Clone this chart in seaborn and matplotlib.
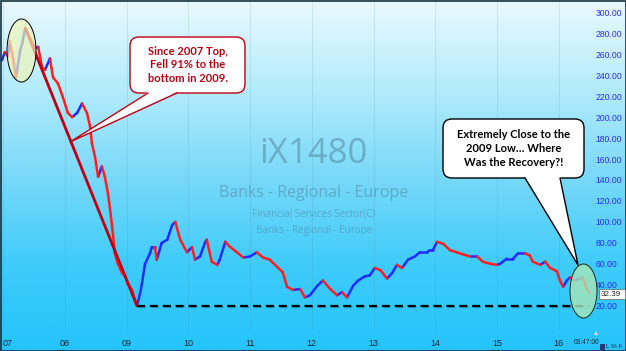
import numpy as np
import pandas as pd
import matplotlib
matplotlib.use("Agg")
import matplotlib.pyplot as plt
import seaborn as sns
from matplotlib.patches import Ellipse, FancyBboxPatch, Polygon, Rectangle
from matplotlib.colors import LinearSegmentedColormap
import matplotlib.patheffects as pe

# ---------------- data ----------------
years = [2006.98, 2007.03, 2007.08, 2007.11, 2007.16, 2007.21, 2007.28, 2007.31, 2007.36, 2007.44,
         2007.52, 2007.57, 2007.63, 2007.68, 2007.76, 2007.81, 2007.89, 2007.97, 2008.05, 2008.12,
         2008.20, 2008.28, 2008.36, 2008.41, 2008.44, 2008.49, 2008.54, 2008.60, 2008.65, 2008.70,
         2008.73, 2008.78, 2008.81, 2008.86, 2008.93, 2008.98, 2009.02, 2009.09, 2009.14, 2009.17,
         2009.22, 2009.25, 2009.30, 2009.38, 2009.41, 2009.46, 2009.49, 2009.57, 2009.66, 2009.74,
         2009.79, 2009.87, 2009.98, 2010.06, 2010.11, 2010.19, 2010.27, 2010.30, 2010.38, 2010.47,
         2010.51, 2010.60, 2010.68, 2010.79, 2010.89, 2011.00, 2011.11, 2011.21, 2011.32, 2011.44,
         2011.53, 2011.60, 2011.70, 2011.81, 2011.89, 2011.97, 2012.09, 2012.18, 2012.30, 2012.41,
         2012.49, 2012.57, 2012.67, 2012.75, 2012.86, 2012.94, 2013.02, 2013.11, 2013.22, 2013.30,
         2013.38, 2013.46, 2013.56, 2013.67, 2013.75, 2013.87, 2013.91, 2013.96, 2014.03, 2014.13,
         2014.24, 2014.35, 2014.45, 2014.56, 2014.68, 2014.77, 2014.89, 2015.00, 2015.05, 2015.16,
         2015.26, 2015.34, 2015.45, 2015.53, 2015.58, 2015.70, 2015.78, 2015.86, 2015.97, 2016.02,
         2016.07, 2016.13, 2016.18, 2016.26, 2016.34, 2016.39, 2016.44, 2016.49]
prices = [254, 262, 258, 272, 257, 238, 264, 270, 285, 275,
          266, 267, 248, 245, 256, 238, 232, 219, 204, 200,
          204, 213, 204, 191, 175, 162, 143, 153, 143, 127,
          114, 89, 70, 60, 51, 48, 41, 35, 25, 20,
          32, 41, 60, 70, 76, 76, 64, 80, 83, 97,
          100, 83, 71, 76, 64, 67, 80, 83, 62, 59,
          64, 81, 76, 71, 66, 67, 71, 66, 64, 57,
          52, 38, 35, 36, 28, 30, 39, 44, 36, 30,
          33, 28, 39, 44, 48, 49, 56, 54, 46, 51,
          59, 56, 64, 67, 71, 71, 73, 73, 81, 79,
          73, 71, 69, 67, 67, 62, 60, 59, 60, 65,
          65, 70, 70, 68, 62, 59, 62, 56, 53, 44,
          38, 44, 47, 44, 46, 47, 38, 32.39]
year_ticks = list(range(2007, 2017))
year_labels = ["07", "08", "09", "10", "11", "12", "13", "14", "15", "16"]
price_ticks = list(range(20, 301, 20))
last_price_label = "32.39"

W, H = 626, 351
sns.set_theme(style="white")
plt.rcParams["font.family"] = ["Liberation Sans", "DejaVu Sans"]

fig = plt.figure(figsize=(W / 100, H / 100), dpi=100)

# ---------------- background gradient ----------------
bg = fig.add_axes([0, 0, 1, 1], zorder=0)
cmap = LinearSegmentedColormap.from_list(
    "bgc", ["#eaf9fe", "#b4ecfc", "#7ad9f9", "#40ccfa", "#24c4fa"])
grad = np.linspace(0, 1, 256).reshape(-1, 1)
bg.imshow(grad, cmap=cmap, aspect="auto", extent=(0, W, H, 0))
bg.set_xlim(0, W)
bg.set_ylim(H, 0)
bg.axis("off")

wm = "#4f7f95"
bg.text(313, 154, "iX1480", fontsize=25, color=wm, alpha=0.5, ha="center", va="center",
        family="Open Sans")
bg.text(314, 193, "Banks - Regional - Europe", fontsize=11.5, color=wm, alpha=0.5,
        ha="center", va="center", family="Open Sans")
bg.text(314, 214, "Financial Services Sector(C)", fontsize=7, color=wm, alpha=0.5,
        ha="center", va="center", family="Open Sans")
bg.text(314, 230, "Banks - Regional - Europe", fontsize=7, color=wm, alpha=0.5,
        ha="center", va="center", family="Open Sans")

# ---------------- main chart ----------------
ax = fig.add_axes([0, (H - 330) / H, 591 / W, 330 / H], zorder=1)
ax.set_facecolor("none")

t = np.array(years)
p = np.array(prices)
rows = []
for i in range(len(t) - 1):
    d = "up" if p[i + 1] >= p[i] else "down"
    rows.append((i, t[i], p[i], d))
    rows.append((i, t[i + 1], p[i + 1], d))
seg = pd.DataFrame(rows, columns=["seg", "t", "v", "dir"])
sns.lineplot(data=seg, x="t", y="v", hue="dir", units="seg", estimator=None, sort=False,
             palette={"up": "#1f2bff", "down": "#ff1e1e"}, linewidth=1.8, legend=False,
             ax=ax, zorder=2)

# red trend line from peak to low, dashed line at the low
i_pk = int(np.argmax(p))
i_lo = int(np.argmin(p))
ax.plot([t[i_pk], t[i_lo]], [p[i_pk], p[i_lo]], color="#c00010", lw=2.0,
        solid_capstyle="round", zorder=4)
ax.plot([t[i_lo], t[-1]], [p[i_lo], p[i_lo]], color="black", lw=1.6, dashes=(3.6, 2.2),
        zorder=4, path_effects=[pe.SimpleLineShadow(offset=(0.8, -1.2), alpha=0.25), pe.Normal()])

ax.set_xlim(2007 - 3 / 61.75, 2007 + 588 / 61.75)
ax.set_ylim(300 - (330 - 12.3) / 1.048, 300 + 12.3 / 1.048)
ax.set_xticks(year_ticks)
ax.set_xticklabels(year_labels)
ax.get_xticklabels()[0].set_horizontalalignment("left")
ax.set_yticks(price_ticks)
ax.set_yticklabels([f"{v:.2f}" for v in price_ticks])
ax.yaxis.tick_right()
ax.tick_params(axis="y", length=0, pad=3.4, labelsize=6.2, labelcolor="#2b2bff")
ax.tick_params(axis="x", length=0, pad=6.5, labelsize=6.5, labelcolor="#1e2a36")
ax.set_xlabel("")
ax.set_ylabel("")
ax.grid(axis="x", color="#3d7f99", alpha=0.15, lw=0.7)
ax.grid(axis="y", visible=False)
for s in ax.spines.values():
    s.set_visible(False)

# ---------------- overlay annotations (pixel coordinates) ----------------
ov = fig.add_axes([0, 0, 1, 1], zorder=3)
ov.set_facecolor("none")
ov.set_xlim(0, W)
ov.set_ylim(H, 0)
ov.axis("off")

ov.add_patch(Ellipse((21.5, 50.5), 29, 63, fc="#eef5b8", alpha=0.7, ec="none"))
ov.add_patch(Ellipse((21.5, 50.5), 29, 63, fc="none", ec="black", lw=0.7))
ov.add_patch(Ellipse((583.5, 291), 27, 54, fc="#a8e6b8", alpha=0.8, ec="none"))
ov.add_patch(Ellipse((583.5, 291), 27, 54, fc="none", ec="#153015", lw=0.7))


def callout(x0, y0, x1, y1, tail, edge, text, tcolor):
    ov.add_patch(FancyBboxPatch((x0, y0), x1 - x0, y1 - y0,
                                boxstyle="round,pad=0,rounding_size=9",
                                fc="white", ec=edge, lw=1.0, zorder=5))
    (bx0, by), (bx1, _), (tx, ty) = tail
    ov.add_patch(Polygon([(bx0, by - 1.2), (bx1, by - 1.2), (tx, ty)], closed=True,
                         fc="white", ec="none", zorder=6))
    ov.plot([bx0, tx, bx1], [by, ty, by], color=edge, lw=1.0, zorder=7)
    ov.text((x0 + x1) / 2, (y0 + y1) / 2, text, ha="center", va="center",
            fontsize=8, fontweight="bold", color=tcolor, family="Lato",
            linespacing=1.3, zorder=8)


callout(130, 37, 245, 93, [(148, 93), (177, 93), (70, 142)], "#c00010",
        "Since 2007 Top,\nFell 91% to the\nbottom in 2009.", "#c00010")
callout(443, 119, 584, 178, [(525, 178), (560, 178), (578, 265)], "black",
        "Extremely Close to the\n2009 Low\u2026 Where\nWas the Recovery?!", "black")

# last price tag and small status texts
ov.add_patch(Rectangle((599, 289), 26, 10, fc="white", ec="#777777", lw=0.6, zorder=5))
ov.text(600.5, 294.2, last_price_label, fontsize=5.8, color="#222222", va="center", ha="left",
        zorder=6)
ov.text(574, 342.5, "03:47:00", fontsize=4.8, color="#1e2a36", va="center", ha="left")
ov.add_patch(Rectangle((600, 344), 5, 6, fc="#233a7a", ec="none"))
ov.text(606, 347, "L % F", fontsize=4.6, color="#1e2a36", va="center", ha="left")
ov.add_patch(Polygon([(594, 335), (598, 335), (596, 331)], closed=True, fc="#f4d2dc", ec="none"))

# frame
ov.add_patch(Rectangle((0.5, 0.5), W - 1, H - 1, fc="none", ec="#15323f", lw=1.2))

fig.savefig("out.png", dpi=100)
